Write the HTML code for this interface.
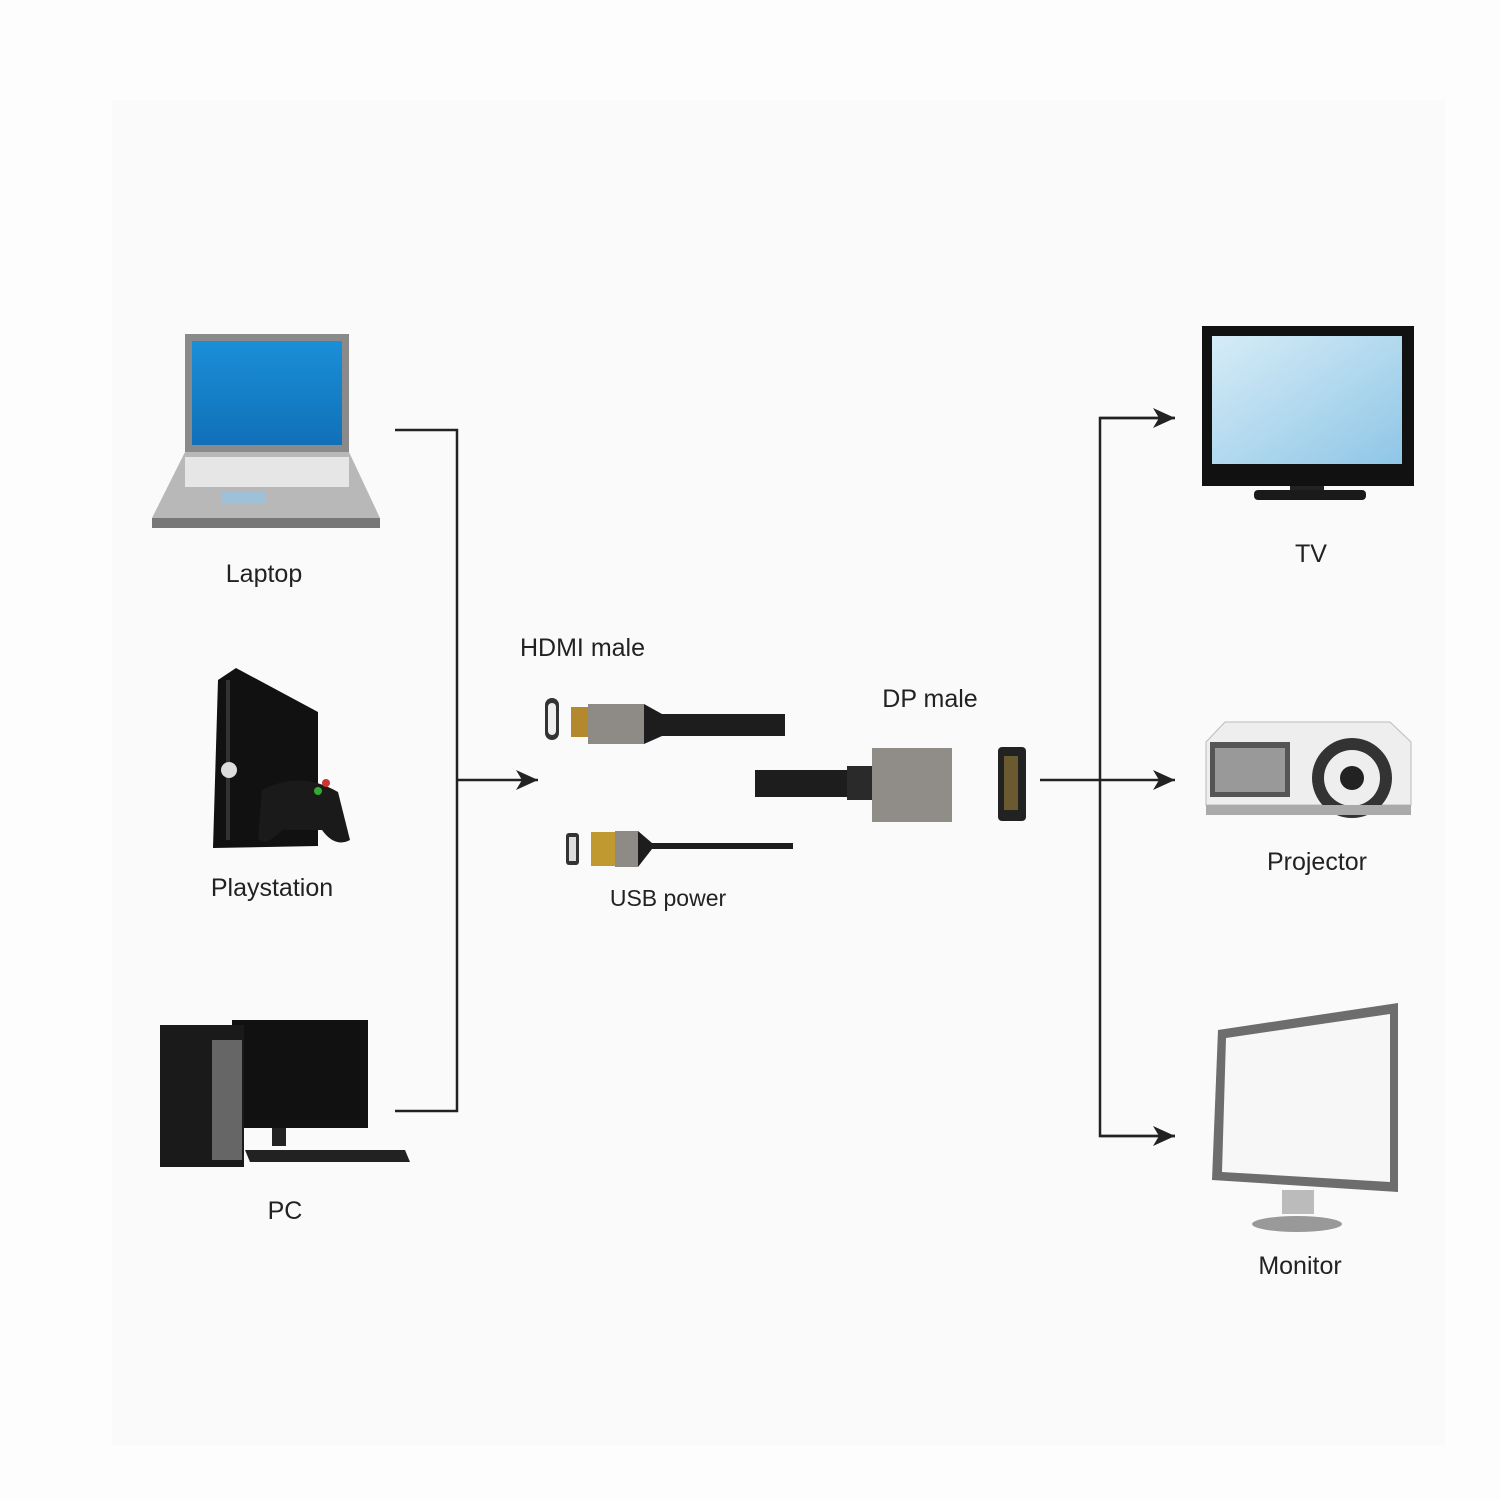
<!DOCTYPE html>
<html><head><meta charset="utf-8"><style>
html,body{margin:0;padding:0;background:#fdfdfd;}
svg{display:block}
text{font-family:"Liberation Sans",sans-serif;font-size:25px;fill:#222;}
</style></head><body>
<svg width="1500" height="1500" viewBox="0 0 1500 1500" xmlns="http://www.w3.org/2000/svg">
<defs>
<marker id="ar" markerWidth="24" markerHeight="20" refX="22" refY="10" orient="auto" markerUnits="userSpaceOnUse">
<path d="M0,0 L22,10 L0,20 L6,10 Z" fill="#222"/></marker>
<linearGradient id="blue" x1="0" y1="0" x2="0" y2="1"><stop offset="0" stop-color="#1a8fd8"/><stop offset="1" stop-color="#1070b8"/></linearGradient>
<linearGradient id="tvs" x1="0" y1="0" x2="1" y2="1"><stop offset="0" stop-color="#d6ecf7"/><stop offset="1" stop-color="#8fc6e6"/></linearGradient>
</defs>
<rect x="112" y="100" width="1333" height="1345" fill="#fafafa"/>

<!-- connectors -->
<g stroke="#222" stroke-width="2.5" fill="none">
<path d="M395,430 H457 V1111 H395"/>
<path d="M457,780 H538" marker-end="url(#ar)"/>
<path d="M1040,780 H1175" marker-end="url(#ar)"/>
<path d="M1175,418 H1100 V1136 H1175" />
<path d="M1100,418 H1175" marker-end="url(#ar)"/>
<path d="M1100,1136 H1175" marker-end="url(#ar)"/>
</g>

<!-- Laptop -->
<rect x="185" y="334" width="164" height="118" fill="#8a8a8a"/>
<rect x="192" y="341" width="150" height="104" fill="url(#blue)"/>
<path d="M185,452 H349 L380,518 H152 Z" fill="#b8b8b8"/>
<rect x="185" y="457" width="164" height="30" fill="#e6e6e6"/>
<rect x="222" y="492" width="44" height="12" fill="#9ec0d8"/>
<rect x="152" y="518" width="228" height="10" fill="#777"/>

<!-- Playstation -->
<path d="M218,680 L236,668 L318,712 L318,846 L213,848 Z" fill="#111"/>
<rect x="226" y="680" width="4" height="160" fill="#333"/>
<circle cx="229" cy="770" r="8" fill="#ddd"/>
<path d="M262,790 Q300,770 338,792 L350,840 Q335,848 322,830 H282 Q265,848 258,838 Z" fill="#1a1a1a"/>
<circle cx="326" cy="783" r="4" fill="#c33"/><circle cx="318" cy="791" r="4" fill="#3a3"/>

<!-- PC -->
<rect x="232" y="1020" width="136" height="108" fill="#111"/>
<rect x="272" y="1128" width="14" height="18" fill="#222"/>
<rect x="160" y="1025" width="84" height="142" fill="#1a1a1a"/>
<rect x="212" y="1040" width="30" height="120" fill="#666"/>
<path d="M245,1150 H405 L410,1162 H250 Z" fill="#222"/>

<!-- cables -->
<rect x="545" y="698" width="14" height="42" rx="7" fill="#333"/>
<rect x="548" y="703" width="8" height="32" rx="4" fill="#eee"/>
<rect x="571" y="707" width="17" height="30" fill="#b4882c"/>
<rect x="588" y="704" width="56" height="40" fill="#8e8b86"/>
<path d="M644,704 L662,714 H785 V736 H662 L644,744 Z" fill="#1d1d1d"/>
<rect x="755" y="770" width="100" height="27" fill="#1d1d1d"/>
<rect x="847" y="766" width="25" height="34" fill="#2a2a2a"/>
<rect x="872" y="748" width="80" height="74" fill="#908d89"/>
<rect x="998" y="747" width="28" height="74" rx="4" fill="#222"/>
<rect x="1004" y="756" width="14" height="54" fill="#6b5a30"/>
<rect x="566" y="833" width="13" height="32" rx="3" fill="#333"/>
<rect x="569" y="837" width="7" height="24" fill="#ddd"/>
<rect x="591" y="832" width="24" height="34" fill="#c09a30"/>
<rect x="615" y="831" width="23" height="36" fill="#8e8b86"/>
<path d="M638,831 L652,843 H793 V849 H652 L638,867 Z" fill="#1d1d1d"/>

<!-- TV -->
<rect x="1202" y="326" width="212" height="160" fill="#111"/>
<rect x="1212" y="336" width="190" height="128" fill="url(#tvs)"/>
<rect x="1290" y="486" width="34" height="6" fill="#222"/>
<rect x="1254" y="490" width="112" height="10" rx="4" fill="#1a1a1a"/>

<!-- Projector -->
<path d="M1206,742 L1225,722 H1390 L1411,742 V805 H1206 Z" fill="#eeeeee" stroke="#bbb"/>
<rect x="1210" y="742" width="80" height="55" fill="#555"/>
<rect x="1215" y="748" width="70" height="44" fill="#999"/>
<circle cx="1352" cy="778" r="40" fill="#333"/>
<circle cx="1352" cy="778" r="28" fill="#eee"/>
<circle cx="1352" cy="778" r="12" fill="#222"/>
<rect x="1206" y="805" width="205" height="10" fill="#aaa"/>

<!-- Monitor -->
<path d="M1218,1030 L1398,1003 V1192 L1212,1180 Z" fill="#6d6d6d"/>
<path d="M1226,1038 L1390,1014 V1182 L1222,1172 Z" fill="#f7f7f7"/>
<rect x="1282" y="1190" width="32" height="24" fill="#bbb"/>
<ellipse cx="1297" cy="1224" rx="45" ry="8" fill="#999"/>

<!-- labels -->
<text x="264" y="582" text-anchor="middle">Laptop</text>
<text x="272" y="896" text-anchor="middle">Playstation</text>
<text x="285" y="1219" text-anchor="middle">PC</text>
<text x="1311" y="562" text-anchor="middle">TV</text>
<text x="1317" y="870" text-anchor="middle">Projector</text>
<text x="1300" y="1274" text-anchor="middle">Monitor</text>
<text x="520" y="656">HDMI  male</text>
<text x="930" y="707" text-anchor="middle">DP male</text>
<text x="668" y="906" text-anchor="middle" style="font-size:23px">USB power</text>
</svg>
</body></html>
